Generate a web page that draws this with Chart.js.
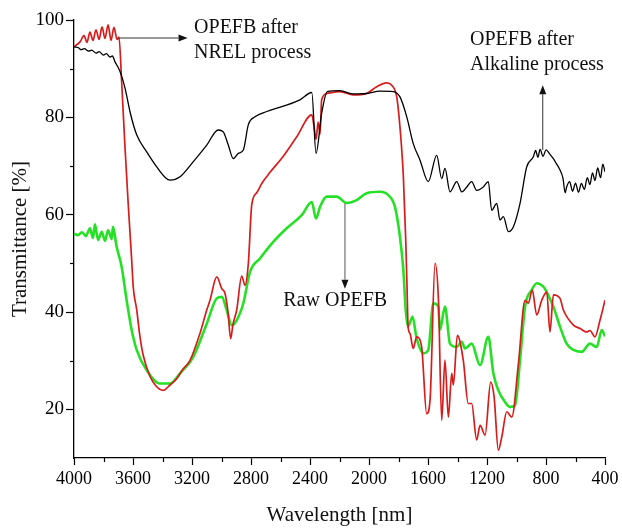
<!DOCTYPE html>
<html><head><meta charset="utf-8">
<script src="https://cdn.jsdelivr.net/npm/chart.js@4.4.1/dist/chart.umd.min.js"></script>
<style>html,body{margin:0;padding:0;background:#fff;}canvas{display:block;}</style>
</head><body>
<canvas id="c" width="622" height="530"></canvas>
<script>
const xTicks = [4000,3600,3200,2800,2400,2000,1600,1200,800,400];
const xMinorTicks = [3800,3400,3000,2600,2200,1800,1400,1000,600];
const yTicks = [20,40,60,80,100];
const yMinorTicks = [30,50,70,90];

const alkalineWn = [4000,3970,3950,3930,3900,3880,3850,3830,3800,3780,3756,3740,3722,3705,3688,3654,3620,3575,3507,3439,3380,3349,3281,3191,3100,3022,2988,2954,2920,2886,2852,2818,2773,2693,2581,2468,2388,2359,2321,2283,2197,2106,2016,1925,1835,1790,1744,1700,1654,1598,1541,1507,1485,1451,1405,1371,1337,1304,1270,1225,1191,1168,1134,1112,1089,1055,1021,976,931,886,870,855,840,820,800,773,750,730,705,685,670,660,640,620,600,580,560,540,520,502,485,468,450,430,415,400];
const alkalineT = [94.5,94.3,93.9,94.1,93.6,93.8,93.2,93.5,92.8,93.1,92.4,92.6,91.4,90.5,89.4,86.0,81.1,76.4,72.9,69.8,67.6,67.1,67.8,70.9,74.3,77.4,77.0,74.3,71.5,72.6,73.3,78.5,80.1,81.2,82.3,83.6,85.1,72.6,80.8,85.3,85.5,84.8,84.9,85.4,85.3,84.2,80.1,74.6,71.2,66.8,72.2,67.4,69.5,64.7,66.8,64.7,65.7,66.8,65.0,65.7,66.8,60.9,62.3,58.9,59.6,56.5,57.5,62.3,69.8,71.9,73.2,71.8,73.4,72.0,73.3,72.4,71.5,70.5,69.2,67.5,64.5,65.7,66.8,64.8,66.5,64.6,66.4,65.2,67.6,66.2,68.6,67.0,69.6,67.6,70.4,68.8];

const nrelWn = [4000,3959,3932,3912,3892,3871,3851,3830,3810,3790,3769,3749,3729,3708,3695,3677,3654,3632,3609,3598,3575,3553,3530,3485,3444,3395,3349,3304,3261,3214,3146,3100,3078,3032,2998,2976,2956,2938,2922,2897,2863,2841,2818,2795,2761,2725,2671,2581,2490,2388,2372,2359,2345,2332,2321,2283,2197,2106,2016,1948,1880,1846,1812,1790,1767,1751,1742,1735,1722,1700,1677,1643,1609,1586,1552,1529,1507,1485,1462,1439,1428,1401,1361,1327,1304,1270,1247,1213,1175,1152,1123,1100,1066,1032,987,942,920,893,863,829,795,773,750,705,682,614,569,523,502,468,434,400];
const nrelT = [94.5,95.5,96.8,95.4,97.5,95.8,98.0,96.0,98.6,96.2,99.0,95.8,98.5,96.0,96.5,87.3,73.7,62.0,50.7,45.0,40.5,35.0,31.0,26.8,24.8,23.9,25.0,26.3,28.3,30.0,35.6,40.4,42.4,47.2,44.8,43.8,40.0,34.5,37.5,40.4,47.4,45.5,50.0,62.0,64.5,66.5,68.7,72.0,76.0,80.5,78.0,75.5,79.0,76.5,83.6,84.9,85.3,84.6,84.9,86.3,87.1,86.6,84.2,78.0,67.8,54.8,45.0,37.0,35.6,32.5,34.9,32.8,19.1,21.9,50.0,42.4,17.8,30.1,18.4,27.4,25.0,35.2,30.1,21.2,21.2,13.7,16.7,14.7,25.6,22.6,11.6,14.3,19.5,18.4,29.4,42.4,41.8,44.5,39.4,42.4,44.1,35.9,43.5,42.8,40.4,37.3,36.6,35.9,36.2,34.9,38.3,42.4];

const rawWn = [4000,3973,3946,3919,3892,3871,3858,3837,3812,3790,3769,3744,3736,3711,3677,3643,3609,3575,3507,3417,3349,3281,3191,3100,3032,2998,2965,2931,2897,2852,2807,2739,2649,2558,2456,2388,2359,2332,2287,2219,2151,2083,2016,1925,1869,1824,1790,1767,1751,1735,1705,1677,1632,1598,1564,1530,1519,1485,1451,1405,1371,1349,1304,1247,1191,1157,1123,1078,1044,1010,976,942,897,863,818,795,750,705,660,614,558,502,456,422,400];
const rawT = [56.1,55.8,56.4,55.6,57.2,55.2,58.0,54.8,56.5,54.6,56.8,55.0,57.5,53.4,49.3,42.4,36.3,32.2,28.0,25.3,25.3,27.4,30.8,37.6,42.8,43.1,40.4,37.3,38.3,41.8,48.2,51.0,54.4,57.2,59.9,62.6,59.2,61.6,63.7,63.7,62.4,63.0,64.4,64.7,64.0,61.6,55.4,48.6,40.4,37.0,39.0,34.6,31.5,32.2,41.8,41.1,36.3,41.1,33.5,32.8,33.9,32.5,33.5,29.1,34.9,27.4,23.9,21.5,20.5,20.8,30.1,41.1,44.5,45.9,45.2,44.1,41.1,37.0,33.5,32.2,31.8,33.5,32.8,36.3,35.0];

const seriesNames = ['OPEFB after Alkaline process','OPEFB after NREL process','Raw OPEFB'];

function pts(xs, ys) { return xs.map((v, i) => ({x: v, y: ys[i]})); }

const SERIF = '"Liberation Serif", "Times New Roman", serif';

function arrow(ctx, x1, y1, x2, y2) {
  const ang = Math.atan2(y2 - y1, x2 - x1);
  const L = 9, W = 3.5;
  const bx = x2 - L * Math.cos(ang), by = y2 - L * Math.sin(ang);
  ctx.beginPath(); ctx.moveTo(x1, y1); ctx.lineTo(bx, by); ctx.stroke();
  ctx.beginPath();
  ctx.moveTo(x2, y2);
  ctx.lineTo(bx + W * Math.sin(ang), by - W * Math.cos(ang));
  ctx.lineTo(bx - W * Math.sin(ang), by + W * Math.cos(ang));
  ctx.closePath(); ctx.fill();
}

const decor = {
  id: 'decor',
  afterDraw(chart) {
    const {ctx, chartArea: ca, scales: {x, y}} = chart;
    ctx.save();
    ctx.strokeStyle = '#000'; ctx.lineWidth = 1.2;
    xMinorTicks.forEach(v => { const px = Math.round(x.getPixelForValue(v)) + 0.5; ctx.beginPath(); ctx.moveTo(px, ca.bottom); ctx.lineTo(px, ca.bottom + 4); ctx.stroke(); });
    yMinorTicks.forEach(v => { const py = Math.round(y.getPixelForValue(v)) + 0.5; ctx.beginPath(); ctx.moveTo(ca.left, py); ctx.lineTo(ca.left - 4, py); ctx.stroke(); });

    ctx.strokeStyle = '#333'; ctx.fillStyle = '#111'; ctx.lineWidth = 1;
    const X = v => x.getPixelForValue(v), Y = v => y.getPixelForValue(v);
    arrow(ctx, X(3700), Y(96.3), X(3230), Y(96.3));
    arrow(ctx, X(822), Y(73.3), X(822), Y(86.6));
    ctx.strokeStyle = '#555';
    arrow(ctx, X(2163), Y(62.3), X(2163), Y(44.8));

    ctx.fillStyle = '#111';
    ctx.font = '20px ' + SERIF;
    ctx.textAlign = 'left'; ctx.textBaseline = 'alphabetic';
    ctx.fillText('OPEFB after', X(3186), Y(97.3));
    ctx.fillText('NREL process', X(3186), Y(92.2));
    ctx.fillText('OPEFB after', X(1315), Y(94.9));
    ctx.fillText('Alkaline process', X(1315), Y(89.7));
    ctx.fillText('Raw OPEFB', X(2581), Y(41.2));
    ctx.restore();
  }
};

new Chart(document.getElementById('c'), {
  type: 'line',
  data: {
    datasets: [
      {label: seriesNames[0], data: pts(alkalineWn, alkalineT), borderColor: '#000000', borderWidth: 1.3},
      {label: seriesNames[1], data: pts(nrelWn, nrelT), borderColor: '#d81c1c', borderWidth: 1.7},
      {label: seriesNames[2], data: pts(rawWn, rawT), borderColor: '#26e026', borderWidth: 2.6}
    ]
  },
  options: {
    responsive: false,
    animation: false,
    events: [],
    layout: {padding: {top: 20, right: 17, left: 0, bottom: 0}},
    elements: {point: {radius: 0}, line: {cubicInterpolationMode: 'monotone', fill: false}},
    plugins: {legend: {display: false}, tooltip: {enabled: false}},
    scales: {
      x: {
        type: 'linear', reverse: true, min: 400, max: 4000,
        afterBuildTicks: s => { s.ticks = xTicks.map(v => ({value: v})); },
        afterFit: s => { s.height = 72; },
        grid: {drawOnChartArea: false, drawTicks: true, tickLength: 7, tickColor: '#000', tickWidth: 1.2},
        border: {display: true, color: '#000', width: 1.3},
        ticks: {color: '#000', font: {family: SERIF, size: 18}, padding: 3, maxRotation: 0, autoSkip: false, callback: v => String(v)},
        title: {display: true, text: 'Wavelength [nm]', color: '#111', font: {family: SERIF, size: 21}, padding: {top: 0, bottom: 2}}
      },
      y: {
        type: 'linear', min: 10, max: 100,
        afterBuildTicks: s => { s.ticks = yTicks.map(v => ({value: v})); },
        afterFit: s => { s.width = 74; },
        grid: {drawOnChartArea: false, drawTicks: true, tickLength: 8, tickColor: '#000', tickWidth: 1.2},
        border: {display: true, color: '#000', width: 1.3},
        ticks: {color: '#000', font: {family: SERIF, size: 19}, padding: 2, callback: v => String(v)},
        title: {display: true, text: 'Transmittance [%]', color: '#111', font: {family: SERIF, size: 21}, padding: {top: 8, bottom: 0}}
      }
    }
  },
  plugins: [decor]
});
</script>
</body></html>
